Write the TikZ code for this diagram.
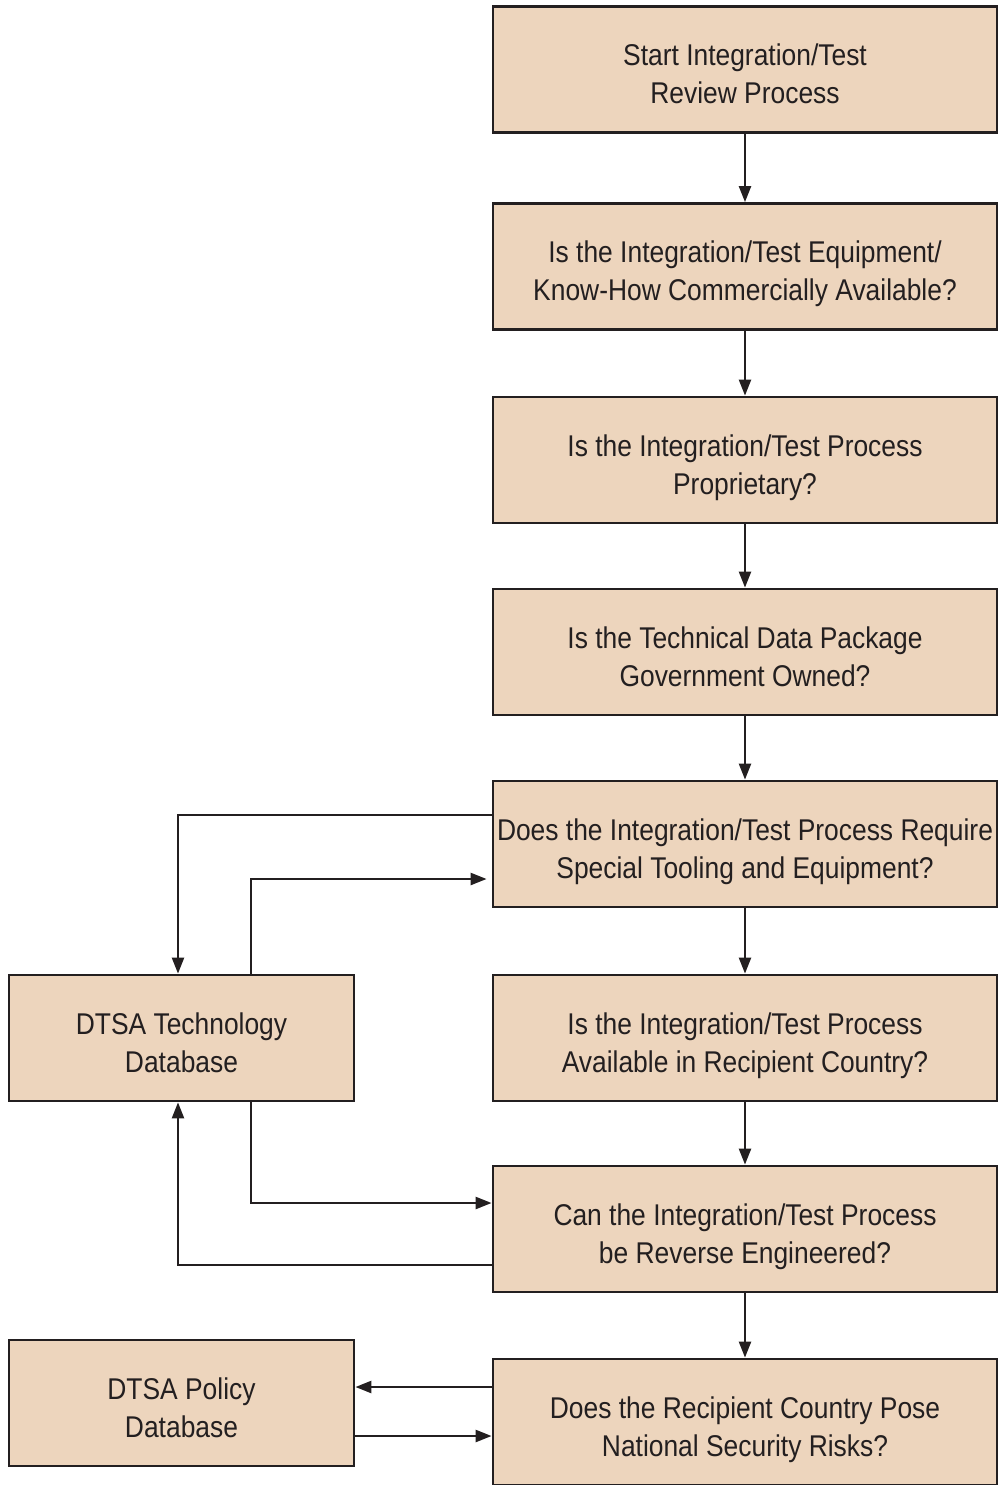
\documentclass[tikz,border=0pt]{standalone}
\usepackage{fontspec}
\setmainfont{Liberation Sans}[FakeStretch=0.88]
\usetikzlibrary{arrows.meta}
\definecolor{boxfill}{HTML}{EDD5BD}
\definecolor{ink}{HTML}{231F20}
\tikzset{
  box/.style={draw=ink, fill=boxfill, line width=1.4pt, align=center,
    text=ink, font=\fontsize{15pt}{19pt}\selectfont, inner sep=2pt,
    execute at begin node={\rule{0pt}{38.25pt}},
    execute at end node={\rule[-4pt]{0pt}{4pt}}},
  rbox/.style={box, minimum width=252pt, minimum height=63pt},
  lbox/.style={box, minimum width=172.5pt, minimum height=63pt},
  conn/.style={draw=ink, line width=1.2pt, -{Triangle[length=8pt,width=6pt]}}
}
\begin{document}
\begin{tikzpicture}[x=0.5pt,y=-0.5pt]
\useasboundingbox (0,0) rectangle (1000,1485);
\node[rbox] (q1) at (745,69.5) {Start Integration/Test\\Review Process};
\node[rbox] (q2) at (745,266.5) {Is the Integration/Test Equipment/\\Know-How Commercially Available?};
\node[rbox] (q3) at (745,460) {Is the Integration/Test Process\\Proprietary?};
\node[rbox] (q4) at (745,652) {Is the Technical Data Package\\Government Owned?};
\node[rbox] (q5) at (745,844) {Does the Integration/Test Process Require\\Special Tooling and Equipment?};
\node[rbox] (q6) at (745,1038) {Is the Integration/Test Process\\Available in Recipient Country?};
\node[rbox] (q7) at (745,1229) {Can the Integration/Test Process\\be Reverse Engineered?};
\node[rbox] (q8) at (745,1422) {Does the Recipient Country Pose\\National Security Risks?};
\node[lbox] (tech) at (181.5,1038) {DTSA Technology\\Database};
\node[lbox] (policy) at (181.5,1403) {DTSA Policy\\Database};

\draw[conn] (q1) -- (q2);
\draw[conn] (q2) -- (q3);
\draw[conn] (q3) -- (q4);
\draw[conn] (q4) -- (q5);
\draw[conn] (q5) -- (q6);
\draw[conn] (q6) -- (q7);
\draw[conn] (q7) -- (q8);

\coordinate (a1) at ([yshift=14.5pt]q5.west);
\coordinate (a2) at ([xshift=-1.75pt]tech.north);
\draw[conn] (a1) -| (a2);
\coordinate (b1) at ([xshift=34.75pt]tech.north);
\coordinate (b2) at ([yshift=-17.5pt,xshift=-2.5pt]q5.west);
\draw[conn] (b1) |- (b2);
\coordinate (c1) at ([xshift=34.75pt]tech.south);
\coordinate (c2) at ([yshift=13pt]q7.west);
\draw[conn] (c1) |- (c2);
\coordinate (d1) at ([yshift=-18pt]q7.west);
\coordinate (d2) at ([xshift=-1.75pt]tech.south);
\draw[conn] (d1) -| (d2);
\coordinate (e1) at ([yshift=17.5pt]q8.west);
\draw[conn] (e1) -- (e1 -| policy.east);
\coordinate (f1) at ([yshift=-16.5pt]policy.east);
\draw[conn] (f1) -- (f1 -| q8.west);
\end{tikzpicture}
\end{document}
